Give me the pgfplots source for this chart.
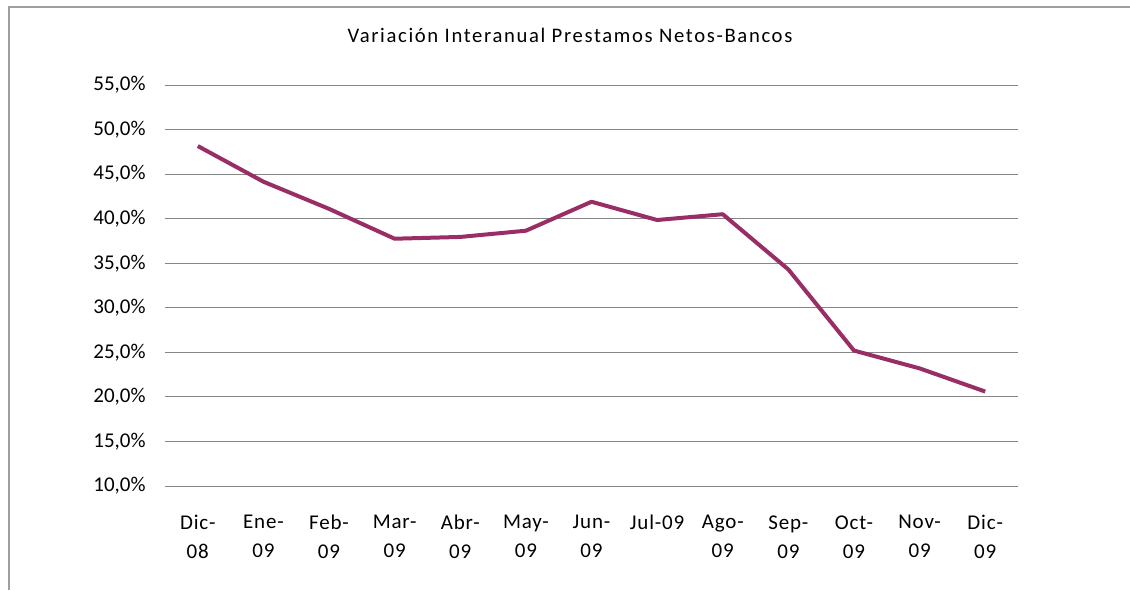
\documentclass[border=0pt]{standalone}
\usepackage{fontspec}
\setmainfont{Carlito}
\usepackage{pgfplots}
\pgfplotsset{compat=1.18}

\definecolor{linea}{RGB}{153,46,102}
\definecolor{rejilla}{RGB}{134,134,134}

\begin{document}
\begin{tikzpicture}[x=0.75pt,y=0.75pt]
% pixel grid of the reference: 1130 x 590, y measured from the bottom
\path[use as bounding box] (0,0) rectangle (1130,590);
\draw[rejilla!80, line width=0.9pt] (9,0) -- (9,583) -- (1131,583);

\node[font=\fontsize{15.5}{18}\selectfont\addfontfeature{LetterSpace=8}] at (570,555)
  {Variación Interanual Prestamos Netos-Bancos};

\begin{axis}[
    at={(123.75pt,78pt)}, anchor=south west,
    scale only axis,
    width=639.75pt, height=300.75pt,
    xmin=-0.5, xmax=12.5,
    ymin=10, ymax=55,
    axis line style={draw=none},
    tick style={draw=none},
    ymajorgrids,
    grid style={rejilla, line width=0.75pt},
    ytick={10,15,...,55},
    yticklabels={{10,0\%},{15,0\%},{20,0\%},{25,0\%},{30,0\%},{35,0\%},{40,0\%},{45,0\%},{50,0\%},{55,0\%}},
    yticklabel style={font=\fontsize{15.75}{18}\selectfont, xshift=-11pt},
    xtick=data,
    xticklabels={{Dic-\\08},{Ene-\\09},{Feb-\\09},{Mar-\\09},{Abr-\\09},{May-\\09},{Jun-\\09},{Jul-09\\\ },{Ago-\\09},{Sep-\\09},{Oct-\\09},{Nov-\\09},{Dic-\\09}},
    xticklabel style={font=\fontsize{15.75}{21.75}\selectfont\addfontfeature{LetterSpace=4}, align=center, yshift=-18.5pt},
    clip=false,
]
\addplot[linea, line width=3pt, line join=round] coordinates {
    (0,48.15) (1,44.15) (2,41.1) (3,37.75) (4,37.95) (5,38.65) (6,41.9)
    (7,39.85) (8,40.5) (9,34.3) (10,25.2) (11,23.2) (12,20.6)
};
\end{axis}
\end{tikzpicture}
\end{document}
